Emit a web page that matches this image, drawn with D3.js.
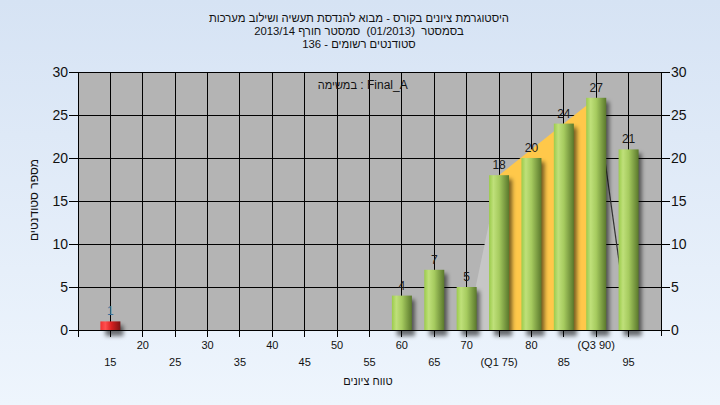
<!DOCTYPE html>
<html><head><meta charset="utf-8">
<script src="https://cdn.jsdelivr.net/npm/d3@7"></script>
<style>html,body{margin:0;padding:0;overflow:hidden}svg{display:block}text{white-space:pre}</style>
</head><body>
<svg id="c" width="720" height="405"></svg>
<script>
const scores = [15, 60, 65, 70, 75, 80, 85, 90, 95];
const counts = [1, 4, 7, 5, 18, 20, 24, 27, 21];
const titleLines = [
  "היסטוגרמת ציונים בקורס - מבוא להנדסת תעשיה ושילוב מערכות",
  "בסמסטר  (01/2013)  סמסטר חורף 2013/14",
  "סטודנטים רשומים - 136"
];
const taskHeb = "במשימה";
const taskSep = ":";
const taskName = "Final_A";
const xTitle = "טווח ציונים";
const yTitle = "מספר סטודנטים";
const xTickValues = [15, 20, 25, 30, 35, 40, 45, 50, 55, 60, 65, 70, 75, 80, 85, 90, 95];
const xTickLabels = ["15","20","25","30","35","40","45","50","55","60","65","70","(Q1 75)","80","85","(Q3 90)","95"];
const yTickValues = [0, 5, 10, 15, 20, 25, 30];
const passScore = 55;
const quartileBand = [[75, 18], [90, 27]];
const leftWedge = [[70, 0], [75, 18]];
const rightLine = [[90, 27], [95, 0]];

const svg = d3.select("#c");
const font = "'Liberation Sans', Arial, sans-serif";
const defs = svg.append("defs");
const bg = defs.append("linearGradient").attr("id","bg").attr("x1",0).attr("y1",0).attr("x2",0).attr("y2",1);
bg.append("stop").attr("offset","0%").attr("stop-color","#d6e3f4");
bg.append("stop").attr("offset","100%").attr("stop-color","#eef5fd");
const gg = defs.append("linearGradient").attr("id","gGreen").attr("x1",0).attr("y1",0).attr("x2",1).attr("y2",0);
[["0%","#9bcb4b"],["22%","#bfe07a"],["50%","#a6cb5f"],["100%","#5a782c"]].forEach(s=>gg.append("stop").attr("offset",s[0]).attr("stop-color",s[1]));
const gr = defs.append("linearGradient").attr("id","gRed").attr("x1",0).attr("y1",0).attr("x2",1).attr("y2",0);
[["0%","#f03030"],["25%","#ff5050"],["55%","#d82020"],["100%","#7a1414"]].forEach(s=>gr.append("stop").attr("offset",s[0]).attr("stop-color",s[1]));
const blur = defs.append("filter").attr("id","blur").attr("x","-50%").attr("y","-50%").attr("width","200%").attr("height","200%");
blur.append("feGaussianBlur").attr("stdDeviation",2);

svg.append("rect").attr("width",720).attr("height",405).attr("fill","url(#bg)");

const L = 78, R = 661, T = 72, B = 330;
const x = d3.scaleLinear().domain([10, 100]).range([L, R]);
const y = d3.scaleLinear().domain([0, 30]).range([B, T]);

svg.append("rect").attr("x",L).attr("y",T).attr("width",R-L).attr("height",B-T).attr("fill","#b4b4b4");

// grid
const grid = svg.append("g").attr("stroke","#000").attr("stroke-width",1).attr("shape-rendering","crispEdges");
xTickValues.forEach(v=>grid.append("line").attr("x1",x(v)).attr("x2",x(v)).attr("y1",T).attr("y2",B));
yTickValues.forEach(v=>grid.append("line").attr("x1",L).attr("x2",R).attr("y1",y(v)).attr("y2",y(v)));

// areas
const line = d3.line().x(d=>x(d[0])).y(d=>y(d[1]));
const bandPts = [[quartileBand[0][0],0], ...quartileBand, [quartileBand[1][0],0]];
svg.append("path").attr("d", line(bandPts)+"Z").attr("fill","#ffc84a");
const wedgePts = [...leftWedge, [leftWedge[1][0],0]];
svg.append("path").attr("d", line(wedgePts)+"Z").attr("fill","#c6c6c6");
svg.append("path").attr("d", line(rightLine)).attr("fill","none").attr("stroke","#333").attr("stroke-width",1.2);

// bars
const bw = 20;
const data = scores.map((s,i)=>({s, c:counts[i]}));
const bars = svg.append("g");
bars.selectAll(".sh").data(data).join("rect")
  .attr("x",d=>x(d.s)-bw/2+5).attr("y",d=>y(d.c)+4).attr("width",bw-2).attr("height",d=>B-y(d.c)+2)
  .attr("fill","rgba(0,0,0,0.55)").attr("filter","url(#blur)");
bars.selectAll(".b").data(data).join("rect")
  .attr("x",d=>x(d.s)-bw/2).attr("y",d=>y(d.c)).attr("width",bw).attr("height",d=>B-y(d.c))
  .attr("fill",d=>d.s<passScore?"url(#gRed)":"url(#gGreen)");
bars.selectAll(".t").data(data).join("text")
  .attr("x",d=>x(d.s)).attr("y",d=>y(d.c)-6).attr("text-anchor","middle")
  .attr("font-family",font).attr("font-size",12).attr("fill",d=>d.s<passScore?"#3a6f9a":"#1a1a1a").text(d=>d.c);

// axes
const ax = svg.append("g").attr("stroke","#000").attr("stroke-width",1).attr("shape-rendering","crispEdges");
ax.append("line").attr("x1",L).attr("x2",R).attr("y1",B).attr("y2",B);
ax.append("line").attr("x1",L).attr("x2",L).attr("y1",T).attr("y2",B+6);
ax.append("line").attr("x1",R).attr("x2",R).attr("y1",T).attr("y2",B+6);
[10, ...xTickValues].forEach(v=>ax.append("line").attr("x1",x(v)).attr("x2",x(v)).attr("y1",B).attr("y2",B+7));
yTickValues.forEach(v=>{
  ax.append("line").attr("x1",L-9).attr("x2",L).attr("y1",y(v)).attr("y2",y(v));
  ax.append("line").attr("x1",R).attr("x2",R+9).attr("y1",y(v)).attr("y2",y(v));
});
const yl = svg.append("g").attr("font-family",font).attr("font-size",14).attr("fill","#111");
yTickValues.forEach(v=>{
  yl.append("text").attr("x",L-10).attr("y",y(v)+5).attr("text-anchor","end").text(v);
  yl.append("text").attr("x",R+10).attr("y",y(v)+5).attr("text-anchor","start").text(v);
});
const xl = svg.append("g").attr("font-family",font).attr("font-size",11).attr("fill","#111");
xTickValues.forEach((v,i)=>{
  const up = (v % 10 === 0);
  xl.append("text").attr("x",x(v)).attr("y",up?349:366).attr("text-anchor","middle").text(xTickLabels[i]);
});

// titles
const tt = svg.append("g").attr("font-family",font).attr("font-size",11.3).attr("fill","#111");
titleLines.forEach((t,i)=>tt.append("text").attr("x",359).attr("y",22+i*13).attr("text-anchor","middle").attr("direction","rtl").text(t));

// task label: Hebrew word, colon, latin name (left to right)
const tg = svg.append("g").attr("font-family",font).attr("font-size",12).attr("fill","#111");
tg.append("text").attr("x",357).attr("y",89).attr("text-anchor","end").attr("font-size",11).text(taskHeb);
tg.append("text").attr("x",362).attr("y",89).attr("text-anchor","middle").text(taskSep);
tg.append("text").attr("x",367).attr("y",89).attr("text-anchor","start").text(taskName);

svg.append("text").attr("x",368).attr("y",385).attr("text-anchor","middle").attr("direction","rtl").attr("font-family",font).attr("font-size",11).attr("fill","#111").text(xTitle);
svg.append("text").attr("transform","translate(38,200) rotate(-90)").attr("text-anchor","middle").attr("direction","rtl").attr("font-family",font).attr("font-size",12).attr("fill","#111").text(yTitle);
</script>
</body></html>
